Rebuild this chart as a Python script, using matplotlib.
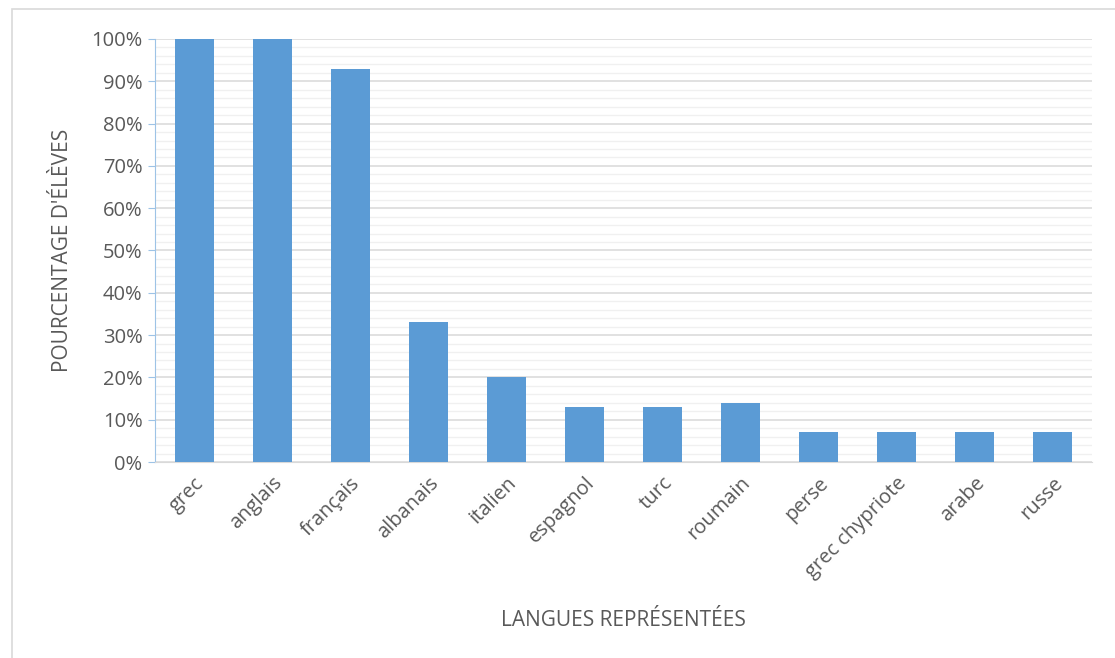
import matplotlib.pyplot as plt
from matplotlib.ticker import MultipleLocator, PercentFormatter
from matplotlib.patches import Rectangle

# data
langues = ["grec", "anglais", "français", "albanais", "italien", "espagnol",
           "turc", "roumain", "perse", "grec chypriote", "arabe", "russe"]
pourcentages = [100, 100, 93, 33, 20, 13, 13, 14, 7, 7, 7, 7]

plt.rcParams['font.family'] = ['Open Sans', 'DejaVu Sans']
txt = "#595959"

fig = plt.figure(figsize=(11.15, 6.58), dpi=100)
ax = fig.add_axes([155 / 1115, 1 - 462 / 658, (1092 - 155) / 1115, (462 - 39) / 658])

# light frame around the whole chart
fig.patches.append(Rectangle((12 / 1115, -0.01), 1.02, 1 - 9 / 658 + 0.01,
                             transform=fig.transFigure, fill=False,
                             edgecolor="#D9D9D9", linewidth=1.2))

x = range(len(langues))
ax.bar(x, pourcentages, width=0.5, color="#5B9BD5", zorder=3)

ax.set_xlim(-0.5, len(langues) - 0.5)
ax.set_ylim(0, 100)
ax.yaxis.set_major_locator(MultipleLocator(10))
ax.yaxis.set_minor_locator(MultipleLocator(2))
ax.yaxis.set_major_formatter(PercentFormatter(decimals=0))
ax.grid(axis="y", which="major", color="#D9D9D9", linewidth=1.1, zorder=0)
ax.grid(axis="y", which="minor", color="#F0F0F0", linewidth=1.0, zorder=0)

for s in ["top", "right"]:
    ax.spines[s].set_visible(False)
ax.spines["left"].set_color("#9DC3E6")
ax.spines["bottom"].set_color("#D9D9D9")
ax.tick_params(axis="y", which="major", length=5, color="#9DC3E6",
               labelsize=14.5, labelcolor=txt, pad=4)
ax.tick_params(axis="y", which="minor", length=0)
ax.tick_params(axis="x", length=0, labelsize=14.5, labelcolor=txt, pad=8)

ax.set_xticks(list(x))
ax.set_xticklabels(langues, rotation=45, ha="right", rotation_mode="anchor")

# axis titles placed where the reference has them
fig.text(0.5 * (155 + 1092) / 1115, 1 - 620 / 658, "LANGUES REPRÉSENTÉES",
         ha="center", va="center", fontsize=15, color=txt)
fig.text(62 / 1115, 1 - 250 / 658, "POURCENTAGE D'ÉLÈVES", rotation=90,
         ha="center", va="center", fontsize=15, color=txt)

fig.savefig("out.png", dpi=100)
